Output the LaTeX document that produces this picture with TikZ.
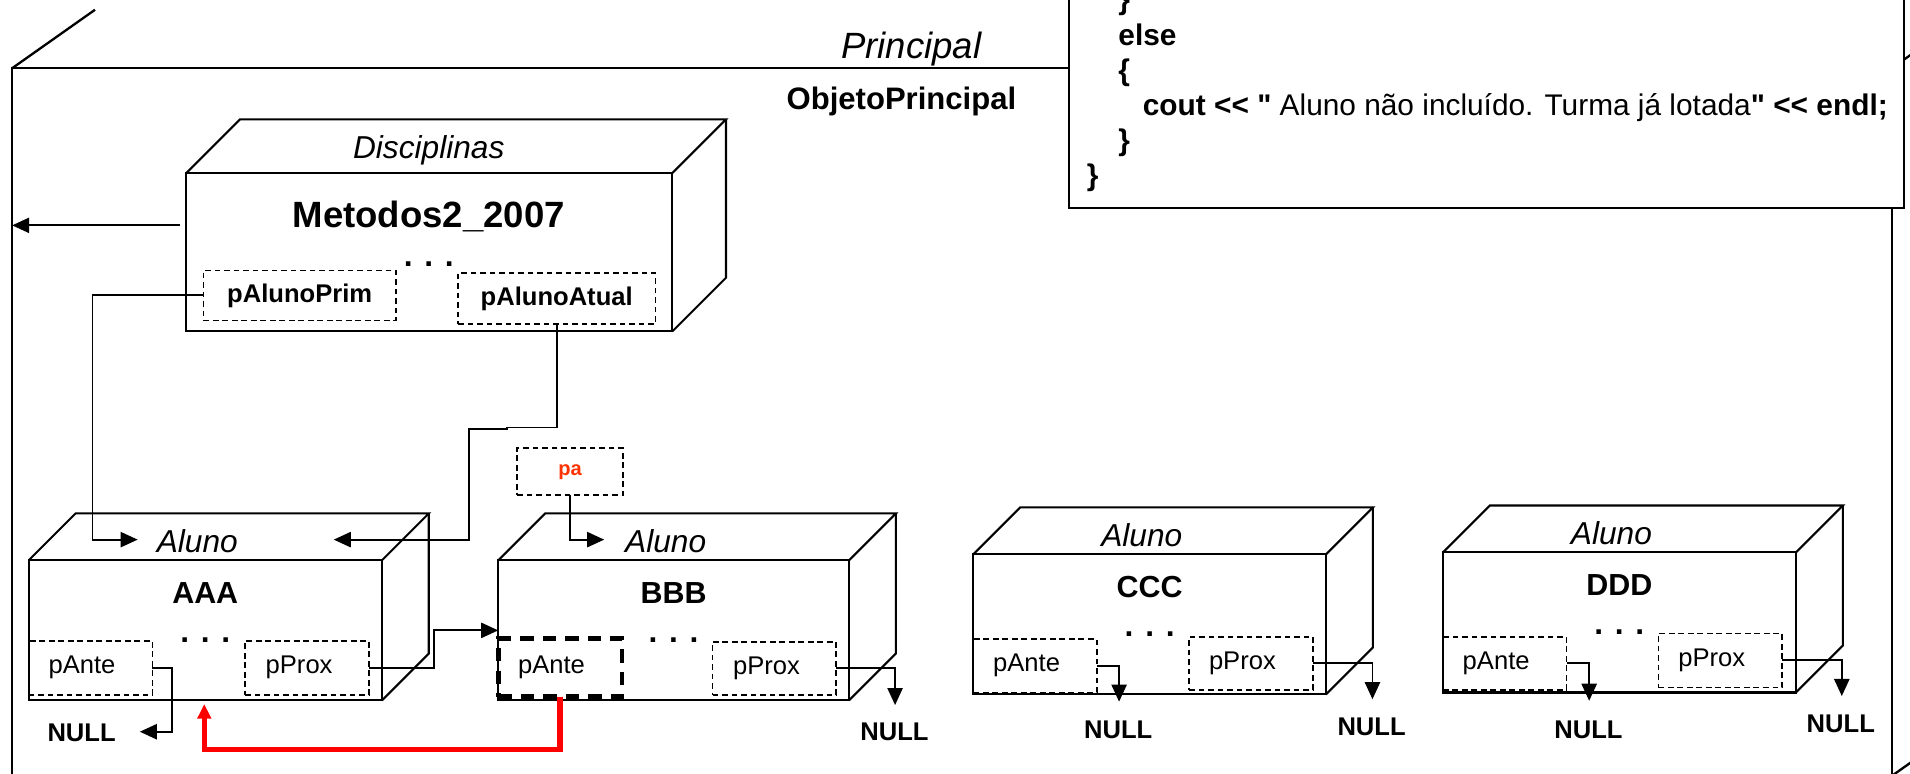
\documentclass[tikz,border=0pt]{standalone}
\usepackage{fontspec}
\setmainfont{Liberation Sans}[Ligatures=TeXOff]
\usetikzlibrary{arrows.meta,calc}
\newcommand{\fsz}[1]{\fontsize{#1}{#1}\selectfont}
\definecolor{pared}{RGB}{255,51,0}
\newcommand{\faces}[2]{%
  \draw[edge] (#1.north west) -- ($(#1.north west)+(#2,-#2)$) -- ($(#1.north east)+(#2,-#2)$) -- (#1.north east);
  \draw[edge] ($(#1.north east)+(#2,-#2)$) -- ($(#1.south east)+(#2,-#2)$) -- (#1.south east);}
\newcommand{\alunobox}[5]{%
  \node[face,minimum width=#4pt,minimum height=115pt] (#1) at (#2,#3) {};
  \faces{#1}{38.5}
  \node[font=\itshape\fsz{26}] (#1t) at ($(#1.north)+(-6.5,-15.5)$) {Aluno};
  \node[font=\bfseries\fsz{25}] (#1n) at ($(#1.north)+(0,27)$) {#5};
  \node[font=\bfseries\fsz{26},anchor=base,inner sep=0pt] (#1d) at ($(#1.north)+(0,67.5)$) {. . .};}
\begin{document}
\begin{tikzpicture}[x=1pt,y=-1pt,
  frame/.style={line width=1.9pt},
  edge/.style={line width=1.7pt},
  face/.style={draw,line width=1.7pt,inner sep=0pt,outer sep=0pt,anchor=north west},
  field/.style={draw,line width=1.3pt,dash pattern=on 4.7pt off 3.1pt,inner sep=0pt,outer sep=0pt,anchor=north west,minimum width=101.5pt,minimum height=44.5pt,font=\fsz{21}},
  thickfield/.style={field,line width=3.8pt,dash pattern=on 11pt off 7.5pt},
  conn/.style={line width=1.5pt},
  tip/.style={-{Triangle[length=14pt,width=12.5pt]}},
  nulltxt/.style={font=\bfseries\fsz{21},inner sep=0pt},
  codeln/.style={anchor=base west,inner sep=0pt,font=\bfseries\fsz{24.5}}]
\useasboundingbox (0,0) rectangle (1568,635);
\clip (0,0) rectangle (1568,635);
% outer frame
\draw[frame] (10,56) -- (78,8);
\draw[frame] (10,660) -- (10,56) -- (1553,56) -- (1553,660);
\draw[frame] (1553,56) -- (1621,8);
\draw[frame] (1553,637) -- (1621,589);
\node[font=\itshape\fsz{30}] (princ) at (748,40) {Principal};
\node[font=\bfseries\fsz{25.5}] (objp) at (740,83) {ObjetoPrincipal};
% code box
\node[draw,fill=white,line width=1.7pt,anchor=north west,minimum width=685pt,minimum height=190pt,inner sep=0pt] (code) at (877,-20) {};
\node[codeln] (c1) at (918,8) {\}};
\node[codeln] (c2) at (918,37) {else};
\node[codeln] (c3) at (918,66) {\{};
\node[codeln] (c4) at (938,95) {cout << "\mdseries{} Aluno não incluído. Turma já lotada\bfseries" << endl;};
\node[codeln] (c5) at (918,123.5) {\}};
\node[codeln] (c6) at (892,152) {\}};
% Disciplinas
\node[face,minimum width=399pt,minimum height=130pt] (dis) at (153,142) {};
\faces{dis}{44}
\node[font=\itshape\fsz{26}] (dist) at (352,123) {Disciplinas};
\node[font=\bfseries\fsz{30},anchor=base] (disn) at (352,187) {Metodos2\_2007};
\node[font=\bfseries\fsz{26},anchor=base,inner sep=0pt] (disd) at (352,219) {. . .};
\node[field,minimum width=158pt,minimum height=41pt,font=\bfseries\fsz{21}] (pprim) at (167,222) {pAlunoPrim};
\node[field,minimum width=162pt,minimum height=42pt,font=\bfseries\fsz{21}] (patual) at (376,224) {pAlunoAtual};
\coordinate (fl) at (10,185);
\draw[conn,tip] ([shift={(-5,-22)}]dis.west) -- (fl);
% Aluno boxes
\alunobox{aaa}{23.5}{460}{290}{AAA}
\alunobox{bbb}{409}{460}{288}{BBB}
\alunobox{ccc}{799}{455}{289.6}{CCC}
\alunobox{ddd}{1184.5}{453.5}{289.8}{DDD}
% fields
\node[field] (aP) at (23.6,526) {pAnte\hspace*{14pt}};
\node[field] (aX) at (201.3,526) {pProx\hspace*{13pt}};
\node[thickfield,minimum height=48pt] (bA) at (409,524) {pAnte\hspace*{14pt}};
\node[field,minimum height=43.8pt] (bX) at (585,526.8) {pProx\hspace*{13pt}};
\node[field,minimum height=44pt] (cA) at (799,524.6) {pAnte\hspace*{14pt}};
\node[field,minimum height=43.8pt] (cX) at (976.2,522.7) {pProx\hspace*{14pt}};
\node[field,minimum height=43.8pt] (dA) at (1184.5,522.7) {pAnte\hspace*{14pt}};
\node[field,minimum height=44.3pt] (dX) at (1361.5,520) {pProx\hspace*{14pt}};
% pa
\node[field,minimum width=87pt,minimum height=38.5pt,font=\bfseries\fsz{16.5},text=pared] (pa) at (424.5,368) {pa};
% connectors into Aluno boxes
\coordinate (aIn1) at (113,443);
\draw[conn,tip] (pprim.west) -- ++(-91,0) |- (aIn1);
\coordinate (aIn2) at (274,443);
\draw[conn,tip] (patual.south) |- (416,351) -- (416,352.5) -| (385,443) -- (aIn2);
\coordinate (bIn) at (496,443);
\draw[conn,tip] (pa.south) |- (bIn);
\draw[conn,tip] (aX.east) -- ++(53.4,0) |- (bbb.west);
% NULLs
\node[nulltxt] (aNull) at (67,601.5) {NULL};
\coordinate (aNullT) at (114.8,600.7);
\draw[conn,tip] (aP.east) -- ++(16.4,0) |- (aNullT);
\node[nulltxt] (bNull) at (734.3,600.7) {NULL};
\coordinate (bNullT) at (734.8,578.8);
\draw[conn,tip] (bX.east) -| (bNullT);
\node[nulltxt] (cNull1) at (918,599.3) {NULL};
\coordinate (cNullT1) at (918.7,576);
\draw[conn,tip] (cA.east) -| (cNullT1);
\node[nulltxt] (cNull2) at (1126,596.6) {NULL};
\coordinate (cNullT2) at (1126.7,574);
\draw[conn,tip] (cX.east) -| (cNullT2);
\node[nulltxt] (dNull1) at (1304,598.8) {NULL};
\coordinate (dNullT1) at (1304.6,575.3);
\draw[conn,tip] (dA.east) -| (dNullT1);
\node[nulltxt] (dNull2) at (1511.2,593.8) {NULL};
\coordinate (dNullT2) at (1512,571.4);
\draw[conn,tip] (dX.east) -| (dNullT2);
% red link
\coordinate (redT) at (167.7,578);
\draw[red,line width=4.2pt,line join=miter,-{Triangle[length=12pt,width=11pt]}] (bA.south) -- ++(0,43) -| (redT);
\end{tikzpicture}
\end{document}
